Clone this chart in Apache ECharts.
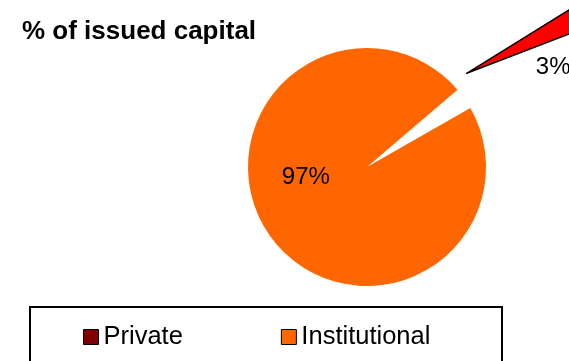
<!DOCTYPE html>
<html>
<head>
<meta charset="utf-8">
<style>
  html, body { margin: 0; padding: 0; background: #ffffff; }
  #chart { width: 569px; height: 361px; }
</style>
<script src="https://cdn.jsdelivr.net/npm/echarts@6/dist/echarts.min.js"></script>
</head>
<body>
<div id="chart"></div>
<script>
// ---- data ----
var titleText = '% of issued capital';
var categories = ['Private', 'Institutional'];
var values = [3, 97];
var sliceColors = ['#FF0000', '#FF6600'];
var legendColors = ['#800000', '#FF6600'];

var chart = echarts.init(document.getElementById('chart'), null, { renderer: 'canvas' });

var FONT = 'Liberation Sans, Arial, sans-serif';
function pct(p) { return Math.round(p.percent) + '%'; }

// Main pie: Institutional drawn, Private slot left empty (exploded slice drawn separately)
var mainData = categories.map(function (c, i) {
  if (i === 0) {
    return { name: c, value: values[i], itemStyle: { color: 'rgba(0,0,0,0)' }, label: { show: false } };
  }
  return {
    name: c, value: values[i],
    itemStyle: { color: sliceColors[i] },
    label: { show: true, position: 'inside', formatter: pct, offset: [-10, -26],
             color: '#000', fontSize: 24, fontFamily: FONT }
  };
});

// Exploded pie: only Private drawn
var explodedData = categories.map(function (c, i) {
  if (i === 0) {
    return {
      name: c, value: values[i],
      itemStyle: { color: sliceColors[i], borderColor: '#000', borderWidth: 1.5 },
      label: { show: true, position: 'inside', formatter: pct, offset: [30, 22],
               color: '#000', fontSize: 24, fontFamily: FONT }
    };
  }
  return { name: c, value: values[i], itemStyle: { color: 'rgba(0,0,0,0)', borderWidth: 0 }, label: { show: false } };
});

var option = {
  animation: false,
  backgroundColor: '#ffffff',
  title: {
    text: titleText,
    left: 22, top: 19,
    padding: 0,
    textStyle: { fontSize: 26, fontWeight: 'bold', color: '#000', fontFamily: FONT }
  },
  legend: {
    left: 83, top: 324,
    padding: 0,
    itemWidth: 15, itemHeight: 15,
    itemGap: 98,
    itemTextGap: 9,
    icon: 'rect',
    selectedMode: false,
    textStyle: { fontSize: 25.5, color: '#000', fontFamily: FONT },
    data: categories.map(function (c, i) {
      return { name: c, icon: 'rect', itemStyle: { color: legendColors[i], borderColor: '#000', borderWidth: 1 } };
    })
  },
  graphic: [{
    type: 'rect',
    shape: { x: 30, y: 307, width: 472, height: 80 },
    style: { fill: 'none', stroke: '#000', lineWidth: 2 },
    silent: true, z: 0
  }],
  series: [
    {
      type: 'pie',
      center: [367, 167],
      radius: [0, 119],
      startAngle: 40.5,
      clockwise: true,
      avoidLabelOverlap: false,
      labelLine: { show: false },
      emphasis: { disabled: true },
      silent: true,
      data: mainData
    },
    {
      type: 'pie',
      center: [466.7, 73.3],
      radius: [0, 120],
      startAngle: 31.8,
      clockwise: true,
      avoidLabelOverlap: false,
      labelLine: { show: false },
      emphasis: { disabled: true },
      silent: true,
      data: explodedData
    }
  ]
};

chart.setOption(option);
</script>
</body>
</html>
